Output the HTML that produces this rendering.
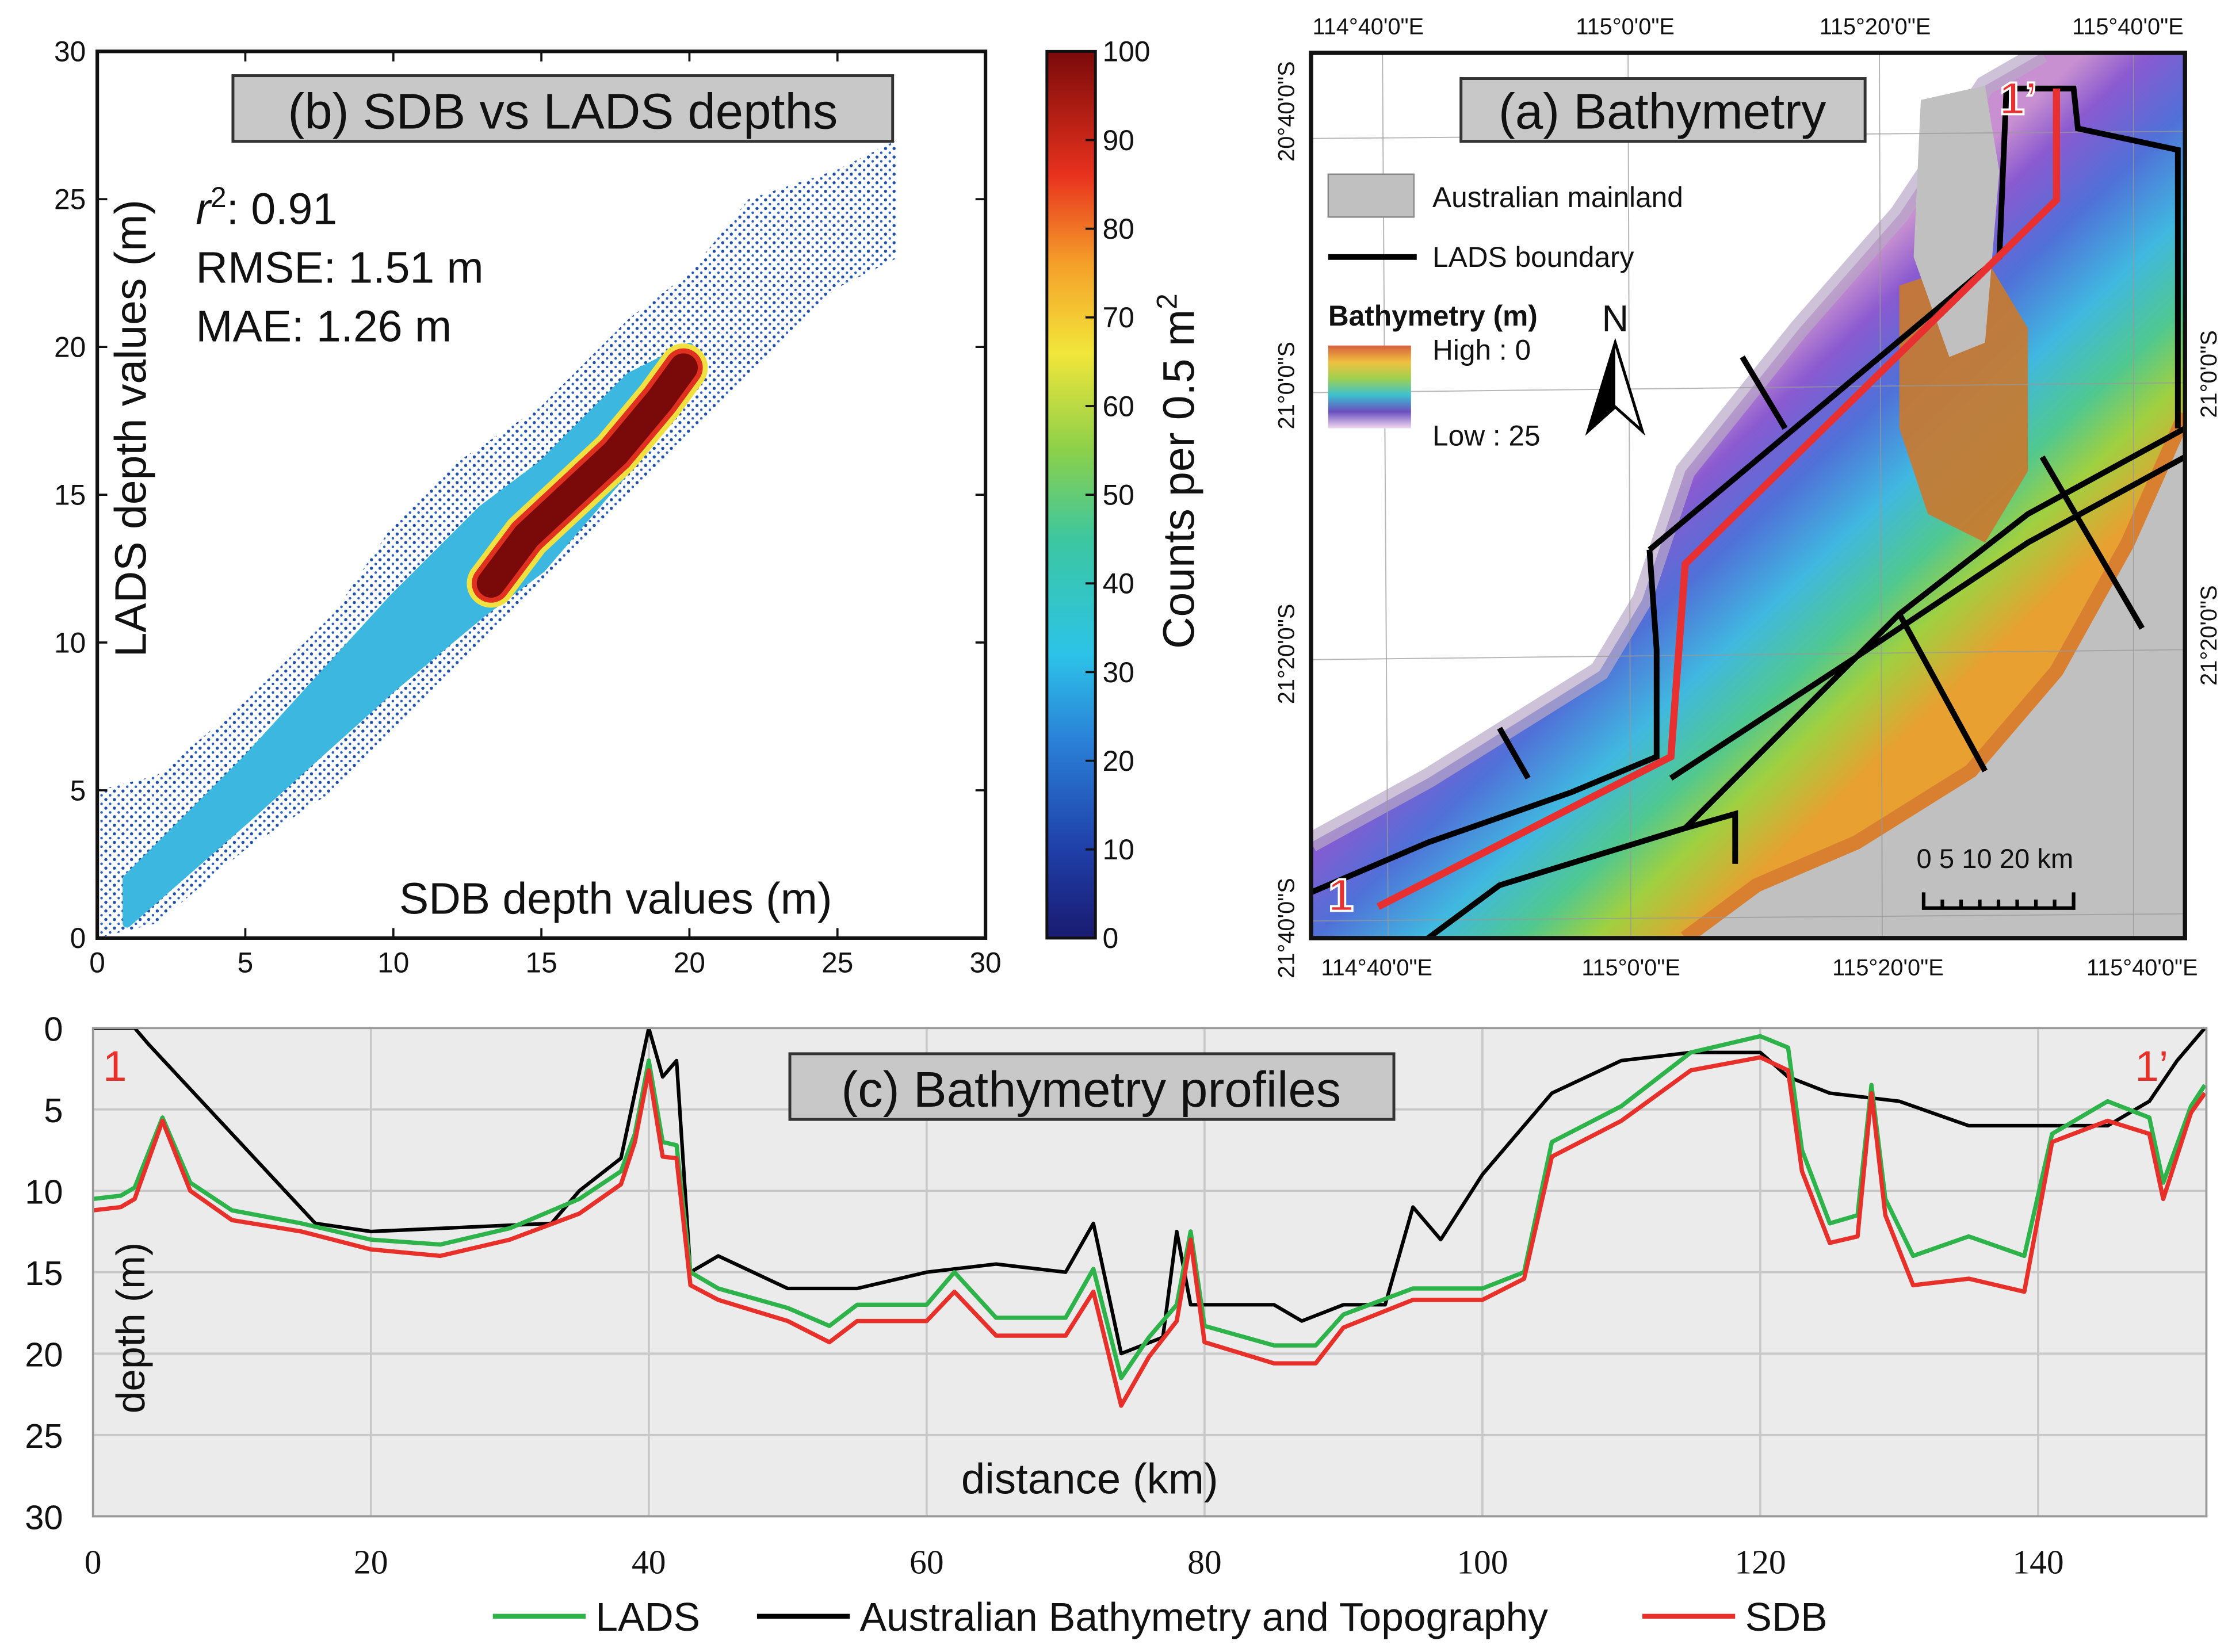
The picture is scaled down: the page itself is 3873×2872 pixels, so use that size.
<!DOCTYPE html>
<html><head><meta charset="utf-8">
<style>
html,body{margin:0;padding:0;background:#fff;}
svg{display:block;}
text{font-family:"Liberation Sans",sans-serif;}
</style></head>
<body>
<svg id="fig" width="3873" height="2872" viewBox="0 0 1560 1157" xmlns="http://www.w3.org/2000/svg">
<defs>
<linearGradient id="cbar" x1="0" y1="1" x2="0" y2="0">
<stop offset="0" stop-color="#1a1a70"/><stop offset="0.1" stop-color="#1f3fa8"/><stop offset="0.22" stop-color="#2a7fd6"/><stop offset="0.32" stop-color="#2cc3e8"/><stop offset="0.45" stop-color="#3cc7a0"/><stop offset="0.55" stop-color="#8cd04a"/><stop offset="0.66" stop-color="#f2e63a"/><stop offset="0.76" stop-color="#f5a02a"/><stop offset="0.86" stop-color="#e8321e"/><stop offset="1" stop-color="#7a0a0a"/>
</linearGradient>
<linearGradient id="rainbow" x1="0" y1="0" x2="0" y2="1">
<stop offset="0" stop-color="#d4603a"/><stop offset="0.2" stop-color="#f0c040"/><stop offset="0.4" stop-color="#9ed050"/><stop offset="0.6" stop-color="#3cc0d0"/><stop offset="0.8" stop-color="#6a4fc0"/><stop offset="1" stop-color="#f0d8f0"/>
</linearGradient>
<linearGradient id="sea" gradientUnits="userSpaceOnUse" x1="1150" y1="330" x2="1330" y2="520">
<stop offset="0" stop-color="#c890d0"/><stop offset="0.12" stop-color="#8a5ad0"/><stop offset="0.3" stop-color="#5070d8"/><stop offset="0.5" stop-color="#40b8e0"/><stop offset="0.68" stop-color="#50c890"/><stop offset="0.82" stop-color="#a0d040"/><stop offset="1" stop-color="#e8a030"/>
</linearGradient>
<pattern id="dots" width="6" height="6" patternUnits="userSpaceOnUse"><circle cx="2" cy="2" r="1.1" fill="#1f4fa8"/><circle cx="5" cy="5" r="0.9" fill="#2a5fc0"/></pattern>
<clipPath id="clipb"><rect x="68" y="36" width="622" height="621"/></clipPath>
<clipPath id="clipa"><rect x="918" y="37" width="612" height="620"/></clipPath>
<clipPath id="clipc"><rect x="65" y="720" width="1480" height="342"/></clipPath>
</defs>
<g id="gb"></g>
<g id="gcb"></g>
<g id="ga"></g>
<g id="gc"></g>
</svg>
<script>
// ---------- data ----------
const bTicks = [0,5,10,15,20,25,30];
const envX = [0,2,5,8,10,12,15,18,20,22,25,27];
const envLo = [0,0.5,3,5,7,9,12,15,17,19,22,23];
const envHi = [5,5.5,8,11,14,16,18,21,22.5,25,26,27];
const midX = [1,5,10,13,15,18,20];
const midLo = [0.5,4,8.5,11,12.5,16,18.5];
const midHi = [2,6,11.5,14.5,16,19,20];
const coreX = [13.3,14.5,16,17.5,19,19.8];
const coreY = [12,13.6,15,16.4,18.2,19.3];
const cbTicks = [0,10,20,30,40,50,60,70,80,90,100];
const profKm = [0,2,3,5,7,10,15,20,25,30,35,38,39,40,41,42,43,45,50,53,55,60,62,65,70,72,74,76,78,79,80,85,88,90,95,100,103,105,110,115,120,122,123,125,127,128,129,131,135,139,141,145,148,149,151,152];
const sdbDepth = [11.2,11,10.5,5.7,10,11.8,12.5,13.6,14,13,11.4,9.6,7,2.6,7.9,8,15.8,16.7,18,19.3,18,18,16.2,18.9,18.9,16.2,23.2,20.2,18,13,19.3,20.6,20.6,18.4,16.7,16.7,15.4,7.9,5.7,2.6,1.8,2.6,8.8,13.2,12.8,4,11.5,15.8,15.4,16.2,7,5.7,6.5,10.5,5.2,4];
const ladsDepth = [10.5,10.3,9.8,5.5,9.5,11.2,12,13,13.3,12.3,10.5,8.8,6.5,2,7,7.2,15,16,17.2,18.3,17,17,15,17.8,17.8,14.8,21.5,19,17,12.5,18.3,19.5,19.5,17.6,16,16,15,7,4.8,1.5,0.5,1.2,7.5,12,11.5,3.5,10.5,14,12.8,14,6.5,4.5,5.5,9.5,4.8,3.5];
const abtKm = [0,3,4,16,20,33,35,38,40,41,42,43,45,50,55,60,65,70,72,74,77,78,79,85,87,90,93,95,97,100,103,105,110,115,120,122,125,130,135,140,145,148,150,152];
const abtDepth = [0,0,1,12,12.5,12,10,8,0,3,2,15,14,16,16,15,14.5,15,12,20,19,12.5,17,17,18,17,17,11,13,9,6,4,2,1.5,1.5,3,4,4.5,6,6,6,4.5,2,0];
const cXTicks = [0,20,40,60,80,100,120,140];
const cYTicks = [0,5,10,15,20,25,30];

const NS="http://www.w3.org/2000/svg";
function mk(tag, attrs, parent){const e=document.createElementNS(NS,tag);for(const k in attrs)e.setAttribute(k,attrs[k]);parent.appendChild(e);return e;}
function txt(s, attrs, parent){const e=mk('text',attrs,parent);e.textContent=s;return e;}

// ---------- panel b ----------
const gb=document.getElementById('gb');
const xb=v=>68+v*20.733, yb=v=>657-v*20.7;
function band(xs,lo,hi){let p=xs.map((x,i)=>xb(x)+','+yb(lo[i]));for(let i=xs.length-1;i>=0;i--)p.push(xb(xs[i])+','+yb(hi[i]));return p.join(' ');}
const gbc=mk('g',{'clip-path':'url(#clipb)'},gb);
let e=mk('polygon',{points:band(envX,envLo,envHi),fill:'url(#dots)'},gbc);


e=mk('polygon',{points:band(midX,midLo,midHi),fill:'#3cb8e0','stroke':'#3cb8e0','stroke-width':6,'stroke-linejoin':'round'},gbc);


const corePts=coreX.map((x,i)=>xb(x)+','+yb(coreY[i])).join(' ');
e=mk('polyline',{points:corePts,fill:'none',stroke:'#f0e040','stroke-width':34,'stroke-linecap':'round'},gbc);


e=mk('polyline',{points:corePts,fill:'none',stroke:'#e03020','stroke-width':27,'stroke-linecap':'round'},gbc);


e=mk('polyline',{points:corePts,fill:'none',stroke:'#7a0a0a','stroke-width':20,'stroke-linecap':'round'},gbc);


e=mk('rect',{x:68,y:36,width:622,height:621,fill:'none',stroke:'#111','stroke-width':2.5},gb);


bTicks.forEach(t=>{
  const x=xb(t),y=yb(t);
  mk('line',{x1:x,y1:657,x2:x,y2:650,stroke:'#111','stroke-width':1.5},gb);
  mk('line',{x1:x,y1:36,x2:x,y2:43,stroke:'#111','stroke-width':1.5},gb);
  mk('line',{x1:68,y1:y,x2:75,y2:y,stroke:'#111','stroke-width':1.5},gb);
  mk('line',{x1:690,y1:y,x2:683,y2:y,stroke:'#111','stroke-width':1.5},gb);
  let a=txt(t,{x:x,y:681,'font-size':20,'text-anchor':'middle',fill:'#111'},gb);
  
  
  a=txt(t,{x:60,y:y+7,'font-size':20,'text-anchor':'end',fill:'#111'},gb);
  
  
});
e=mk('rect',{x:163,y:53,width:462,height:46,fill:'#c8c8c8',stroke:'#333','stroke-width':2},gb);


e=txt('(b) SDB vs LADS depths',{x:394,y:90,'font-size':35,'text-anchor':'middle',fill:'#111'},gb);


e=txt('',{x:137,y:157,'font-size':31,fill:'#111'},gb);
e.innerHTML='<tspan font-style="italic">r</tspan><tspan dy="-12" font-size="20">2</tspan><tspan dy="12">: 0.91</tspan>';


e=txt('RMSE: 1.51 m',{x:137,y:198,'font-size':31,fill:'#111'},gb);


e=txt('MAE: 1.26 m',{x:137,y:239,'font-size':31,fill:'#111'},gb);


e=txt('SDB depth values (m)',{x:431,y:640,'font-size':31,'text-anchor':'middle',fill:'#111'},gb);


e=txt('LADS depth values (m)',{x:0,y:0,'font-size':31,'text-anchor':'middle',fill:'#111',transform:'translate(102,300) rotate(-90)'},gb);



// ---------- colorbar ----------
const gcb=document.getElementById('gcb');
e=mk('rect',{x:733,y:36,width:34,height:621,fill:'url(#cbar)',stroke:'#111','stroke-width':2},gcb);


cbTicks.forEach(t=>{const y=657-t*6.21;
  mk('line',{x1:760,y1:y,x2:767,y2:y,stroke:'#111','stroke-width':1.5},gcb);
  const a=txt(t,{x:772,y:y+7,'font-size':20,fill:'#111'},gcb);
  
  
});
e=txt('',{x:0,y:0,'font-size':31,'text-anchor':'middle',fill:'#111',transform:'translate(836,330) rotate(-90)'},gcb);
e.innerHTML='Counts per 0.5 m<tspan dy="-12" font-size="20">2</tspan>';



// ---------- panel a map ----------
const ga=document.getElementById('ga');
const gac=mk('g',{'clip-path':'url(#clipa)'},ga);
mk('rect',{x:918,y:37,width:612,height:620,fill:'#fff'},gac);
e=mk('polygon',{points:'918,590 1000,545 1120,470 1150,420 1180,330 1260,230 1330,150 1390,60 1430,37 1530,37 1530,657 918,657',fill:'url(#sea)'},gac);


mk('polyline',{points:'918,590 1000,545 1120,470 1150,420 1180,330 1260,230 1330,150 1390,60 1430,37',fill:'none',stroke:'#b8a8c8','stroke-width':14,opacity:0.7},gac);
e=mk('polygon',{points:'1330,200 1390,180 1420,230 1420,330 1390,380 1350,360 1330,300',fill:'#c87a30',opacity:0.92},gac);


e=mk('polygon',{points:'1180,657 1230,620 1300,590 1380,540 1440,470 1490,380 1530,290 1530,657',fill:'#c0c0c0'},gac);


mk('polyline',{points:'1180,657 1230,620 1300,590 1380,540 1440,470 1490,380 1530,290',fill:'none',stroke:'#d88030','stroke-width':10},gac);
e=mk('polygon',{points:'1345,70 1390,60 1400,120 1390,240 1365,250 1340,180',fill:'#c0c0c0'},gac);


[[968,37,972,657],[1140,37,1142,657],[1316,37,1318,657],[1494,37,1494,657],[918,97,1530,92],[918,275,1530,268],[918,462,1530,455],[918,645,1530,640]].forEach(l=>{
  mk('line',{x1:l[0],y1:l[1],x2:l[2],y2:l[3],stroke:'#999','stroke-width':0.8,opacity:0.7},gac);
});
const ladsLines=['1155,385 1400,180 1405,62 1452,62 1455,90 1525,105 1525,300','1155,385 1160,455 1160,530 1100,555 1000,590 918,625','1000,657 1050,620 1180,580 1330,430 1420,360 1530,300','1170,545 1300,460 1420,380 1530,320','1430,320 1500,440','1330,430 1390,540','1220,250 1250,300','1050,510 1070,545','1180,580 1215,570 1215,605'];
ladsLines.forEach(p=>{e=mk('polyline',{points:p,fill:'none',stroke:'#000','stroke-width':4},gac);
  
  });
e=mk('polyline',{points:'965,635 1170,530 1180,395 1440,140 1440,62',fill:'none',stroke:'#e83030','stroke-width':5},gac);


e=txt('1',{x:930,y:638,'font-size':32,fill:'#e83030',stroke:'#fff','stroke-width':1.5,'font-weight':'bold'},gac);


e=txt('1’',{x:1400,y:80,'font-size':32,fill:'#e83030',stroke:'#fff','stroke-width':1.5,'font-weight':'bold'},gac);


e=mk('rect',{x:918,y:37,width:612,height:620,fill:'none',stroke:'#111','stroke-width':3},ga);


e=mk('rect',{x:1023,y:55,width:283,height:44,fill:'#c8c8c8',stroke:'#333','stroke-width':2},ga);


e=txt('(a) Bathymetry',{x:1164,y:90,'font-size':35,'text-anchor':'middle',fill:'#111'},ga);


e=mk('rect',{x:930,y:122,width:60,height:30,fill:'#c0c0c0',stroke:'#888'},ga);


e=txt('Australian mainland',{x:1003,y:145,'font-size':20,fill:'#111'},ga);


e=mk('line',{x1:930,y1:180,x2:992,y2:180,stroke:'#000','stroke-width':4},ga);


e=txt('LADS boundary',{x:1003,y:187,'font-size':20,fill:'#111'},ga);


e=txt('Bathymetry (m)',{x:930,y:228,'font-size':20,'font-weight':'bold',fill:'#111'},ga);


e=mk('rect',{x:930,y:242,width:58,height:58,fill:'url(#rainbow)'},ga);


e=txt('High : 0',{x:1003,y:252,'font-size':20,fill:'#111'},ga);


e=txt('Low : 25',{x:1003,y:312,'font-size':20,fill:'#111'},ga);


e=txt('N',{x:1131,y:232,'font-size':26,'text-anchor':'middle',fill:'#111'},ga);


e=mk('polygon',{points:'1131,240 1112,302 1131,285 1150,302',fill:'#fff',stroke:'#000','stroke-width':2},ga);


mk('polygon',{points:'1131,240 1112,302 1131,285',fill:'#000'},ga);
e=txt('0  5 10     20 km',{x:1342,y:608,'font-size':19,fill:'#111'},ga);


let sb='M1347,625 L1347,636 L1452,636 L1452,625';for(let i=1;i<8;i++)sb+=' M'+(1347+i*13.1)+',630 L'+(1347+i*13.1)+',636';
e=mk('path',{d:sb,fill:'none',stroke:'#000','stroke-width':2.5},ga);


[['114°40\'0"E',958],['115°0\'0"E',1138],['115°20\'0"E',1313],['115°40\'0"E',1490]].forEach(d=>{
  const a=txt(d[0],{x:d[1],y:24,'font-size':16,'text-anchor':'middle',fill:'#111'},ga);
  
  });
[['114°40\'0"E',964],['115°0\'0"E',1142],['115°20\'0"E',1322],['115°40\'0"E',1500]].forEach(d=>{
  const a=txt(d[0],{x:d[1],y:683,'font-size':16,'text-anchor':'middle',fill:'#111'},ga);
  
  });
[['20°40\'0"S',78],['21°0\'0"S',270],['21°20\'0"S',458],['21°40\'0"S',650]].forEach(d=>{
  const a=txt(d[0],{x:0,y:0,'font-size':16,'text-anchor':'middle',fill:'#111',transform:'translate(906,'+d[1]+') rotate(-90)'},ga);
  
  });
[['21°0\'0"S',262],['21°20\'0"S',445]].forEach(d=>{
  const a=txt(d[0],{x:0,y:0,'font-size':16,'text-anchor':'middle',fill:'#111',transform:'translate(1552,'+d[1]+') rotate(-90)'},ga);
  
  });

// ---------- panel c ----------
const gc=document.getElementById('gc');
const xc=k=>65+k*9.73, yc=d=>720+d*11.4;
e=mk('rect',{x:65,y:720,width:1480,height:342,fill:'#ebebeb'},gc);


cXTicks.forEach(t=>{if(t>0)mk('line',{x1:xc(t),y1:720,x2:xc(t),y2:1062,stroke:'#c8c8c8','stroke-width':1.5},gc);
  const a=txt(t,{x:xc(t),y:1102,'font-size':24,'text-anchor':'middle',fill:'#111',style:'font-family:"Liberation Serif",serif'},gc);
  
  });
cYTicks.forEach(t=>{if(t>0&&t<30)mk('line',{x1:65,y1:yc(t),x2:1545,y2:yc(t),stroke:'#c8c8c8','stroke-width':1.5},gc);
  const a=txt(t,{x:44,y:yc(t)+9,'font-size':24,'text-anchor':'end',fill:'#111'},gc);
  
  });
const gcc=mk('g',{'clip-path':'url(#clipc)'},gc);
function line(ks,ds,col,w){const el=mk('polyline',{points:ks.map((k,i)=>xc(k)+','+yc(ds[i])).join(' '),fill:'none',stroke:col,'stroke-width':w,'stroke-linejoin':'round'},gcc);return el;}
e=line(abtKm,abtDepth,'#000',2.5);


e=line(profKm,ladsDepth,'#2db34a',3);


e=line(profKm,sdbDepth,'#e8302a',3);


e=mk('rect',{x:65,y:720,width:1480,height:342,fill:'none',stroke:'#999','stroke-width':1.5},gc);


e=mk('rect',{x:553,y:738,width:423,height:46,fill:'#c8c8c8',stroke:'#333','stroke-width':2},gc);


e=txt('(c) Bathymetry profiles',{x:764,y:775,'font-size':35,'text-anchor':'middle',fill:'#111'},gc);


e=txt('1',{x:72,y:757,'font-size':30,fill:'#e8302a'},gc);


e=txt('1’',{x:1495,y:757,'font-size':30,fill:'#e8302a'},gc);


e=txt('distance (km)',{x:763,y:1046,'font-size':30,'text-anchor':'middle',fill:'#111'},gc);


e=txt('depth (m)',{x:0,y:0,'font-size':28,'text-anchor':'middle',fill:'#111',transform:'translate(101,930) rotate(-90)'},gc);


// legend
const leg=[['#2db34a',345,'LADS'],['#000',530,'Australian Bathymetry and Topography'],['#e8302a',1150,'SDB']];
leg.forEach(l=>{
  let a=mk('line',{x1:l[1],y1:1132,x2:l[1]+65,y2:1132,stroke:l[0],'stroke-width':3.5},gc);
  
  
  a=txt(l[2],{x:l[1]+72,y:1142,'font-size':28,fill:'#111'},gc);
  
  
});
</script>
</body></html>
